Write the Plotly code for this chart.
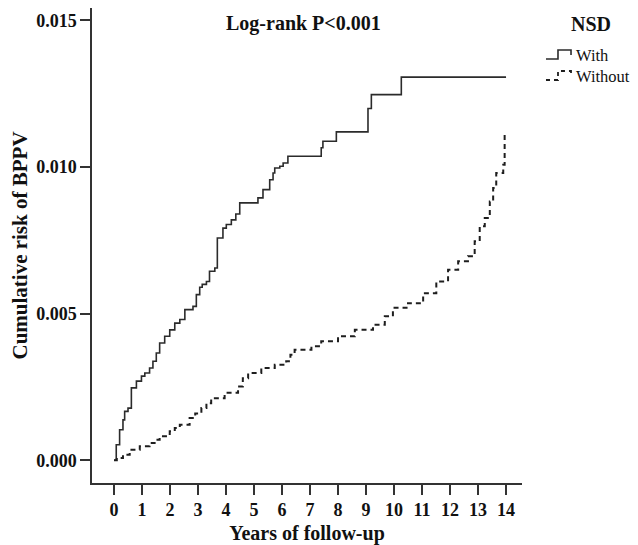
import plotly.graph_objects as go

# ---- data ----
years_with = [0, 0.08, 0.2, 0.32, 0.38, 0.5, 0.62, 0.8, 0.98, 1.1, 1.27, 1.39, 1.51, 1.63,
              1.81, 1.99, 2.17, 2.35, 2.53, 2.82, 2.94, 3.06, 3.15, 3.3, 3.41, 3.6, 3.69,
              3.89, 4.01, 4.19, 4.35, 4.49, 5.14, 5.32, 5.56, 5.68, 5.74, 5.92, 6.04, 6.21,
              7.4, 7.46, 7.94, 9.07, 9.19, 10.26, 14.0]
risk_with = [0, 0.00053, 0.00104, 0.00138, 0.00167, 0.00178, 0.00247, 0.0027, 0.00287,
             0.00298, 0.00315, 0.00338, 0.00366, 0.004, 0.00423, 0.00445, 0.00468, 0.0048,
             0.00514, 0.00525, 0.00565, 0.0059, 0.006, 0.0061, 0.00645, 0.00656, 0.00758,
             0.00792, 0.00804, 0.0082, 0.0084, 0.00878, 0.00895, 0.00923, 0.00957, 0.0098,
             0.00997, 0.01003, 0.01014, 0.01037, 0.01066, 0.01088, 0.0112, 0.012, 0.01247,
             0.01307, 0.01307]

years_without = [0, 0.1, 0.32, 0.56, 0.92, 1.27, 1.45, 1.63, 1.99, 2.17, 2.35, 2.7, 2.9,
                 3.12, 3.3, 3.47, 3.95, 4.43, 4.6, 4.79, 5.26, 5.74, 6.15, 6.3, 6.45, 7.05,
                 7.4, 8.0, 8.6, 9.25, 9.67, 9.96, 10.5, 11.04, 11.51, 11.93, 12.29, 12.64,
                 12.88, 13.06, 13.24, 13.42, 13.54, 13.65, 13.9, 13.95]
risk_without = [0, 0.00008, 0.00019, 0.00036, 0.00048, 0.00059, 0.0007, 0.00082, 0.00099,
                0.0011, 0.00121, 0.00144, 0.0016, 0.00178, 0.00195, 0.00212, 0.0023, 0.00252,
                0.0028, 0.00298, 0.00315, 0.00326, 0.00338, 0.0036, 0.00377, 0.00389, 0.00406,
                0.00423, 0.00445, 0.00462, 0.00491, 0.0052, 0.00536, 0.0057, 0.0061, 0.0065,
                0.00679, 0.00696, 0.00747, 0.00798, 0.00826, 0.00883, 0.00929, 0.0098,
                0.01008, 0.01116]

x_ticks = list(range(0, 15))
y_ticks = [0.0, 0.005, 0.010, 0.015]
y_tick_labels = ["0.000", "0.005", "0.010", "0.015"]

title_text = "Log-rank P<0.001"
legend_title = "NSD"
legend_labels = ["With", "Without"]
x_title = "Years of follow-up"
y_title = "Cumulative risk of BPPV"

FONT = "Liberation Serif, Times New Roman, serif"

fig = go.Figure()
fig.add_trace(go.Scatter(x=years_with, y=risk_with, mode="lines", line_shape="hv",
                         line=dict(color="#2b2b2b", width=1.6), name=legend_labels[0],
                         showlegend=False))
fig.add_trace(go.Scatter(x=years_without, y=risk_without, mode="lines", line_shape="hv",
                         line=dict(color="#1e1e1e", width=2, dash="5px,4px"),
                         name=legend_labels[1], showlegend=False))

L, R, T, B = 84, 514, 0, 475
W, H = 638, 545

def px(x):
    return (x - L) / (R - L)

def py(y):
    return (B - y) / (B - T)

annotations = [
    dict(text="<b>%s</b>" % title_text, x=px(295), y=py(16), xref="paper", yref="paper",
         showarrow=False, xanchor="center", yanchor="middle",
         font=dict(family=FONT, size=20, color="#111")),
    dict(text="<b>%s</b>" % legend_title, x=px(583), y=py(16), xref="paper", yref="paper",
         showarrow=False, xanchor="center", yanchor="middle",
         font=dict(family=FONT, size=20, color="#111")),
    dict(text=legend_labels[0], x=px(566), y=py(47), xref="paper", yref="paper",
         showarrow=False, xanchor="left", yanchor="middle",
         font=dict(family=FONT, size=16.5, color="#111")),
    dict(text=legend_labels[1], x=px(566), y=py(68), xref="paper", yref="paper",
         showarrow=False, xanchor="left", yanchor="middle",
         font=dict(family=FONT, size=16.5, color="#111")),
]

def glyph(dy):
    pts = [(538, 51 + dy), (550, 51 + dy), (550, 42 + dy), (563, 42 + dy), (563, 47 + dy)]
    return "M " + " L ".join("%.4f,%.4f" % (px(a), py(b)) for a, b in pts)

shapes = [
    dict(type="path", path=glyph(0), xref="paper", yref="paper",
         line=dict(color="#2b2b2b", width=1.6)),
    dict(type="path", path=glyph(21), xref="paper", yref="paper",
         line=dict(color="#1e1e1e", width=1.8, dash="4px,4px")),
]

fig.update_layout(
    width=W, height=H,
    margin=dict(l=L, r=W - R, t=T, b=H - B, pad=0),
    paper_bgcolor="white", plot_bgcolor="white",
    showlegend=False,
    annotations=annotations,
    shapes=shapes,
    font=dict(family=FONT, color="#111"),
)

fig.update_xaxes(
    range=[-0.786, 14.57], tickvals=x_ticks, ticktext=["<b>%d</b>" % v for v in x_ticks],
    ticks="outside", ticklen=10, tickwidth=1.5, tickcolor="#333",
    showline=True, linecolor="#333", linewidth=1.5, showgrid=False, zeroline=False,
    tickfont=dict(family=FONT, size=18, color="#111"),
    title=dict(text="<b>%s</b>" % x_title, font=dict(family=FONT, size=20, color="#111"),
               standoff=7),
)
fig.update_yaxes(
    range=[-0.000774, 0.015426], tickvals=y_ticks,
    ticktext=["<b>%s</b>" % t for t in y_tick_labels],
    ticks="outside", ticklen=10, tickwidth=1.5, tickcolor="#333",
    showline=True, linecolor="#333", linewidth=1.5, showgrid=False, zeroline=False,
    tickfont=dict(family=FONT, size=18, color="#111"),
    title=dict(text="<b>%s</b>" % y_title, font=dict(family=FONT, size=21, color="#111"),
               standoff=6),
)

fig.write_html("out.html")
